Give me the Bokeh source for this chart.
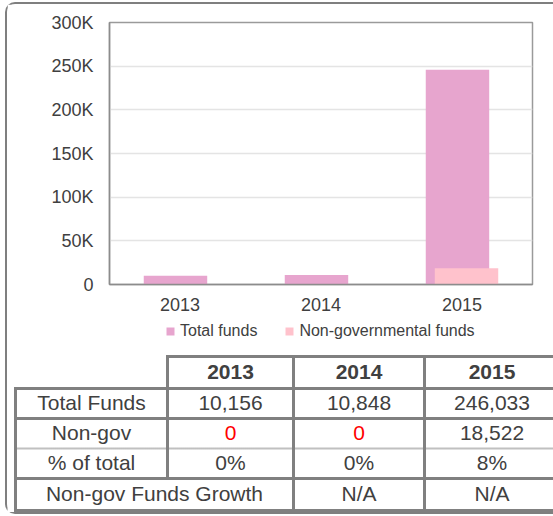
from bokeh.plotting import figure
from bokeh.models import ColumnDataSource, Range1d, Legend, LegendItem, FixedTicker
from bokeh.layouts import column
from bokeh.embed import file_html
from bokeh.resources import INLINE
from bokeh.core.properties import value

# ---------------- data ----------------
years = ["2013", "2014", "2015"]
total_funds = [10156, 10848, 246033]
non_gov_funds = [0, 0, 18522]
y_ticks = [0, 50000, 100000, 150000, 200000, 250000, 300000]
y_tick_labels = ["0", "50K", "100K", "150K", "200K", "250K", "300K"]
series_names = ["Total funds", "Non-governmental funds"]
row_labels = ["Total Funds", "Non-gov", "% of total", "Non-gov Funds Growth"]
growth_years = ["2014", "2015"]
growth_values = ["N/A", "N/A"]

# ---------------- style ----------------
FONT = "Liberation Sans"
TXT = "#404040"
RED = "#ff0000"
LINE = "#808080"
C_TOTAL = "#e7a5ce"
C_NONGOV = "#ffc2cc"

OX, OY = 7, 4                          # screen position of the layout content
W = 546
FL, FR, FT, FB = 109, 532, 22, 284     # chart frame (screen px)
H1 = (FB - OY) + 35                    # chart figure height
T_TOP, T_BOT = OY + H1, 512            # table figure (screen px)
H2 = T_BOT - T_TOP


def no_align(fig):
    try:
        fig.frame_align = False
    except AttributeError:
        pass


# ---------------- chart ----------------
p = figure(x_range=Range1d(0, len(years)), y_range=Range1d(0, 300000),
           width=W, height=H1, output_backend="svg", toolbar_location=None,
           min_border_left=FL - OX, min_border_right=W - (FR - OX),
           min_border_top=FT - OY, min_border_bottom=H1 - (FB - OY))
no_align(p)
p.background_fill_color = "white"
p.border_fill_color = "white"
p.outline_line_color = "#9a9a9a"
p.outline_line_width = 1.5

centers = [i + 0.5 for i in range(len(years))]
src = ColumnDataSource(dict(x_total=[c - 0.032 for c in centers],
                            x_non=[c + 0.032 for c in centers],
                            total=total_funds, nongov=non_gov_funds))
p.vbar(x="x_total", top="total", width=0.45, source=src, fill_color=C_TOTAL, line_color=None)
p.vbar(x="x_non", top="nongov", width=0.45, source=src, fill_color=C_NONGOV, line_color=None)

p.xgrid.grid_line_color = None
p.ygrid.ticker = FixedTicker(ticks=y_ticks)
p.ygrid.grid_line_color = "#e4e4e4"
p.ygrid.grid_line_width = 1.5

p.xaxis.ticker = FixedTicker(ticks=centers)
p.xaxis.major_label_overrides = {c: y for c, y in zip(centers, years)}
p.yaxis.ticker = FixedTicker(ticks=y_ticks)
p.yaxis.major_label_overrides = {t: l for t, l in zip(y_ticks, y_tick_labels)}
for ax in (p.xaxis, p.yaxis):
    ax.axis_line_color = "#8c8c8c"
    ax.axis_line_width = 1.5
    ax.major_tick_line_color = None
    ax.minor_tick_line_color = None
    ax.major_tick_out = 0
    ax.major_tick_in = 0
    ax.major_label_text_font = FONT
    ax.major_label_text_font_size = "18px"
    ax.major_label_text_color = TXT
p.yaxis.major_label_standoff = 16
p.xaxis.major_label_standoff = 13

# ---------------- legend + table figure ----------------
t = figure(width=W, height=H2, x_range=Range1d(OX, OX + W), y_range=Range1d(T_BOT, T_TOP),
           output_backend="svg", toolbar_location=None, min_border=0,
           min_border_left=0, min_border_right=0, min_border_top=0, min_border_bottom=0,
           x_axis_type=None, y_axis_type=None)
no_align(t)
t.grid.visible = False
t.outline_line_color = None
t.background_fill_color = "white"
t.border_fill_color = "white"

# legend swatches: the same series, drawn off this figure's visible area
lg_total = t.scatter(x="x_total", y="total", source=src, marker="square", size=8,
                     fill_color=C_TOTAL, line_color=None)
lg_non = t.scatter(x="x_non", y="nongov", source=src, marker="square", size=8,
                   fill_color=C_NONGOV, line_color=None)
legend = Legend(items=[LegendItem(label=series_names[0], renderers=[lg_total], index=0),
                       LegendItem(label=series_names[1], renderers=[lg_non], index=0)],
                orientation="horizontal", location=(153, H2 - 2 - 20),
                glyph_width=20, glyph_height=20, label_standoff=0, spacing=22,
                padding=0, margin=0, border_line_color=None, background_fill_alpha=0,
                label_text_font=FONT, label_text_font_size="16px", label_text_color=TXT)
t.add_layout(legend)

cx = [15, 167, 293, 424, 559]           # column edges (screen px)
ry = [356, 388, 418, 448, 478, 510]     # row edges (screen px)
col_center = {y: (cx[i + 1] + cx[i + 2]) / 2 for i, y in enumerate(years)}
label_center = (cx[0] + cx[1]) / 2
row_center = [(ry[i] + ry[i + 1]) / 2 - 1 for i in range(5)]

x0, y0, x1, y1 = [], [], [], []


def seg(a, b, c, d):
    x0.append(a); y0.append(b); x1.append(c); y1.append(d)


seg(cx[1], ry[0], cx[4], ry[0])
for r in (ry[1], ry[2], ry[4], ry[5]):
    seg(cx[0], r, cx[4], r)
seg(cx[0], ry[1], cx[0], ry[5])
seg(cx[1], ry[0], cx[1], ry[4])
seg(cx[2], ry[0], cx[2], ry[5])
seg(cx[3], ry[0], cx[3], ry[5])
t.segment(x0=x0, y0=y0, x1=x1, y1=y1, line_color=LINE, line_width=3, line_cap="square")
t.segment(x0=[cx[0]], y0=[ry[3]], x1=[cx[4]], y1=[ry[3]], line_color=LINE,
          line_width=2, line_dash="1 1")

t.text(x=[col_center[y] for y in years], y=[row_center[0]] * len(years), text=years,
       text_font=value(FONT), text_font_size="21px", text_font_style="bold",
       text_color=TXT, text_align="center", text_baseline="middle")

tx, ty, tt, tc = [], [], [], []


def cell(x, y, s, c=TXT):
    tx.append(x); ty.append(y); tt.append(s); tc.append(c)


for i, lab in enumerate(row_labels[:3]):
    cell(label_center, row_center[i + 1], lab)
cell((cx[0] + cx[2]) / 2, row_center[4], row_labels[3])
for y, tot, ng in zip(years, total_funds, non_gov_funds):
    cell(col_center[y], row_center[1], f"{tot:,}")
    cell(col_center[y], row_center[2], f"{ng:,}", RED if ng == 0 else TXT)
    cell(col_center[y], row_center[3], f"{round(100 * ng / tot)}%")
for y, g in zip(growth_years, growth_values):
    cell(col_center[y], row_center[4], g)

t.text(x=tx, y=ty, text=tt, text_color=tc, text_font=value(FONT), text_font_size="21px",
       text_align="center", text_baseline="middle")

layout = column(p, t, spacing=0,
                styles={"border-top": "2px solid #7f7f7f", "border-left": "2px solid #7f7f7f",
                        "border-bottom": "2px solid #7f7f7f",
                        "border-top-left-radius": "10px", "border-bottom-left-radius": "10px",
                        "margin-left": "5px", "margin-top": "2px",
                        "background-color": "white"})

open("out.html", "w").write(file_html(layout, INLINE))
